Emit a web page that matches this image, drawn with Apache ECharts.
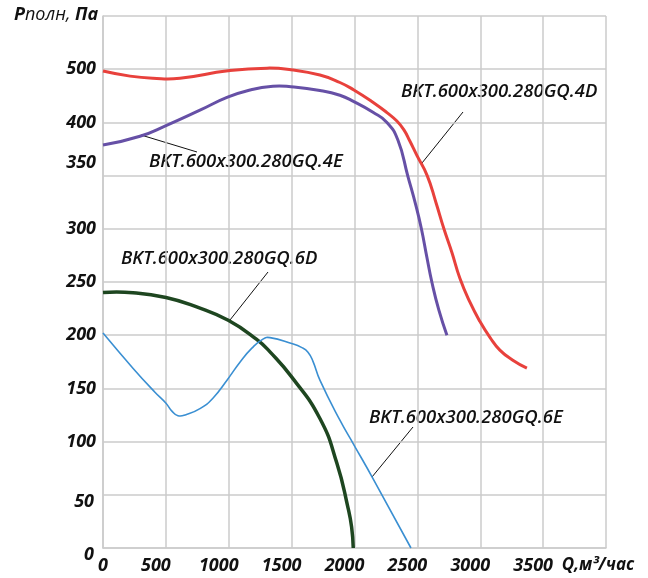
<!DOCTYPE html>
<html>
<head>
<meta charset="utf-8">
<script src="https://cdn.jsdelivr.net/npm/echarts@6/dist/echarts.min.js"></script>
<style>html,body{margin:0;padding:0;background:#fff}#c{width:648px;height:578px}</style>
</head>
<body>
<div id="c"></div>
<script>
// Tick labels
const xTickValues = [0, 500, 1000, 1500, 2000, 2500, 3000, 3500, 4000];
const xTickLabels = ['0', '500', '1000', '1500', '2000', '2500', '3000', '3500', 'Q,м³/час'];
const yTickValues = [0, 50, 100, 150, 200, 250, 300, 350, 400, 500];
const yTickLabels = ['0', '50', '100', '150', '200', '250', '300', '350', '400', '500'];

// Series names
const seriesNames = ['BKT.600x300.280GQ.4D', 'BKT.600x300.280GQ.4E', 'BKT.600x300.280GQ.6D', 'BKT.600x300.280GQ.6E'];

// 4D (red): flow m³/h, pressure Pa
const flow4D = [0, 215, 397, 612, 994, 1304, 1494, 1725, 1884, 1995, 2146, 2258, 2337, 2393, 2440, 2496, 2578, 2647, 2711, 2774, 2838, 2918, 2997, 3077, 3156, 3259, 3371];
const pres4D = [496.6, 487, 483, 483, 497, 502, 499, 489, 475, 461, 438, 418.5, 402.5, 393, 382.5, 369, 350, 325, 300, 278, 253.5, 231, 213, 198, 186, 176.5, 169];
// 4E (purple)
const flow4E = [0, 294, 501, 771, 986, 1169, 1351, 1494, 1725, 1884, 1995, 2147, 2258, 2345, 2424, 2488, 2532, 2576, 2615, 2671, 2735];
const pres4E = [378.7, 387, 397, 423, 447, 461, 468, 467, 460, 451, 439, 419, 400, 383.4, 349.6, 322, 300, 273, 250, 223.5, 200];
// 6D (dark green)
const flow6D = [0, 238, 501, 745, 996, 1222, 1328, 1500, 1725, 1860, 1948, 1977, 1990];
const pres6D = [240.2, 240, 235.5, 226.6, 214, 196, 184.3, 160.8, 121.7, 79.6, 38, 19.7, 0];
// 6E (blue)
const flow6E = [0, 238, 413, 501, 548, 596, 660, 771, 874, 986, 1089, 1184, 1272, 1328, 1500, 1582, 1630, 1669, 1725, 1884, 1995, 2146, 2449];
const pres6E = [202, 169, 146.4, 136, 128.6, 124.3, 125.3, 131, 140.8, 157.7, 174.6, 187.8, 196.3, 197.7, 192.2, 188.3, 184, 175.6, 157.7, 120.1, 97, 65.5, 0];

// The printed y scale is not linear in Pa: map Pa to gridline index through the tick labels.
function toIdx(p) {
  const v = yTickValues;
  for (let i = 0; i < v.length - 1; i++) {
    if (p <= v[i + 1]) return i + (p - v[i]) / (v[i + 1] - v[i]);
  }
  const n = v.length - 1;
  return n + (p - v[n]) / (v[n] - v[n - 1]);
}
function pairs(xs, ps) { return xs.map((x, i) => [x, toIdx(ps[i])]); }

// A smooth curve through the read points, positioned by the chart's own axes (api.coord).
function curveSeries(name, xs, ps, color, width) {
  const data = pairs(xs, ps);
  return {
    type: 'custom', name: name, coordinateSystem: 'cartesian2d', data: data,
    encode: {x: 0, y: 1}, silent: true,
    renderItem: function (params, api) {
      if (params.dataIndex !== 0) return null;
      const pts = data.map(d => api.coord(d));
      return {type: 'polyline', shape: {points: pts, smooth: 0.5},
        style: {stroke: color, lineWidth: width, fill: 'none', lineJoin: 'round', lineCap: 'butt'}};
    }
  };
}

const FONT = '"Open Sans", "Noto Sans", sans-serif';
const chart = echarts.init(document.getElementById('c'), null, {renderer: 'canvas'});

const gridColor = '#cbcbcb';
const lbl = {fontFamily: FONT, fontSize: 18, fontStyle: 'italic', fontWeight: 'bold', color: '#111'};
const noteStyle = {fontFamily: FONT, fontSize: 18.5, fontStyle: 'italic', fontWeight: 600, fill: '#111', verticalAlign: 'middle'};
const option = {
  animation: false,
  backgroundColor: '#fff',
  grid: {left: 103, right: 42, top: 16, bottom: 30, containLabel: false},
  xAxis: {
    type: 'value', min: 0, max: 4000, interval: 500,
    axisLine: {show: true, lineStyle: {color: gridColor, width: 1.5}},
    axisTick: {show: false},
    splitLine: {show: true, lineStyle: {color: gridColor, width: 1.5}},
    axisLabel: Object.assign({}, lbl, {
      margin: 9, showMaxLabel: true, showMinLabel: true, hideOverlap: false,
      formatter: function (v) {
        const i = xTickValues.indexOf(v);
        if (i < 0) return '';
        if (i === 0) return xTickLabels[i];
        if (i === xTickValues.length - 1) return '{q|' + xTickLabels[i] + '}';
        return '{s|' + xTickLabels[i] + '}';
      },
      rich: {
        s: Object.assign({}, lbl, {padding: [0, 20, 0, 0]}),
        q: Object.assign({}, lbl, {fontSize: 17, padding: [0, 16, 0, 0]})
      }
    })
  },
  yAxis: {
    type: 'value', min: 0, max: 10, interval: 1,
    axisLine: {show: true, lineStyle: {color: gridColor, width: 1.5}},
    axisTick: {show: false},
    splitLine: {show: true, lineStyle: {color: gridColor, width: 1.5}},
    axisLabel: Object.assign({}, lbl, {
      margin: 7,
      formatter: function (v) {
        const t = yTickLabels[v];
        if (t === undefined) return '';
        if (t === '350') return '{up|' + t + '}';
        if (t === '0' || t === '50') return '{dn|' + t + '}';
        return t;
      },
      rich: {
        up: Object.assign({}, lbl, {padding: [0, 0, 26, 0]}),
        dn: Object.assign({}, lbl, {padding: [14, 2, 0, 0]})
      }
    })
  },
  series: [
    curveSeries(seriesNames[0], flow4D, pres4D, '#e8413c', 3),
    curveSeries(seriesNames[1], flow4E, pres4E, '#6650a6', 3),
    curveSeries(seriesNames[2], flow6D, pres6D, '#1e4620', 3.5),
    curveSeries(seriesNames[3], flow6E, pres6E, '#3a8fd2', 1.6)
  ],
  graphic: [
    {type: 'text', left: 14, top: 6, style: {
      text: '{b|Р}{n|полн, }{b|Па}',
      rich: {
        b: {fontFamily: FONT, fontSize: 18, fontStyle: 'italic', fontWeight: 'bold', fill: '#111'},
        n: {fontFamily: FONT, fontSize: 18, fontStyle: 'italic', fontWeight: 'normal', fill: '#111'}
      }
    }},
    {type: 'text', x: 401, y: 92, style: Object.assign({text: seriesNames[0]}, noteStyle)},
    {type: 'line', shape: {x1: 463, y1: 112, x2: 422, y2: 163}, style: {stroke: '#111', lineWidth: 1}},
    {type: 'text', x: 149, y: 162, style: Object.assign({text: seriesNames[1]}, noteStyle)},
    {type: 'line', shape: {x1: 141, y1: 135, x2: 197, y2: 152}, style: {stroke: '#111', lineWidth: 1}},
    {type: 'text', x: 121, y: 259, style: Object.assign({text: seriesNames[2]}, noteStyle)},
    {type: 'line', shape: {x1: 268, y1: 272, x2: 230, y2: 320}, style: {stroke: '#111', lineWidth: 1}},
    {type: 'text', x: 369, y: 418, style: Object.assign({text: seriesNames[3]}, noteStyle)},
    {type: 'line', shape: {x1: 413, y1: 427, x2: 372, y2: 477}, style: {stroke: '#111', lineWidth: 1}}
  ]
};
chart.setOption(option);
</script>
</body>
</html>
